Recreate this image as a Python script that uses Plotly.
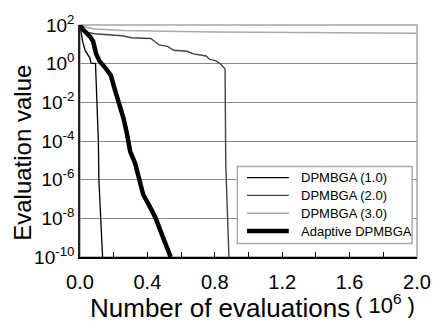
import plotly.graph_objects as go

# ---- data (x in 10^6 evaluations, y = evaluation value) ----
x_d10 = [0, 0.015, 0.03, 0.048, 0.058, 0.066, 0.092, 0.109, 0.112, 0.134]
y_d10 = [100, 15, 5, 2.9, 2.0, 1.05, 1.0, 1e-4, 1e-6, 1e-10]

x_d20 = [0, 0.029, 0.086, 0.25, 0.307, 0.42, 0.47, 0.519, 0.557, 0.634, 0.673,
         0.749, 0.768, 0.807, 0.836, 0.861, 0.865, 0.884]
y_d20 = [100, 44, 35, 28, 22, 20, 9.3, 7.8, 4.9, 4.4, 3.2,
         2.5, 1.7, 1.4, 0.93, 0.52, 6.3e-6, 1e-10]

x_d30 = [0, 0.01, 0.086, 0.26, 0.6, 0.81, 2.0]
y_d30 = [100, 85, 63, 52, 46, 43, 37]

x_ad = [0, 0.02, 0.058, 0.077, 0.096, 0.115, 0.154, 0.183, 0.202, 0.231, 0.259,
        0.278, 0.298, 0.327, 0.356, 0.375, 0.422, 0.451, 0.480, 0.509, 0.538]
y_ad = [100, 56, 26, 15, 3.2, 1.4, 0.56, 0.25, 0.063, 0.01, 0.0014,
        2.5e-4, 2.8e-5, 7.1e-6, 9.3e-7, 1.7e-7, 3.0e-8, 9.3e-9, 2.0e-9, 4.3e-10, 1e-10]

names = ["DPMBGA (1.0)", "DPMBGA (2.0)", "DPMBGA (3.0)", "Adaptive DPMBGA"]
colors = ["#000000", "#444444", "#aaaaaa", "#000000"]
widths = [1.3, 1.4, 1.5, 4.5]

y_tickvals = [1e-10, 1e-8, 1e-6, 1e-4, 1e-2, 1e0, 1e2]
y_ticktext = ["10<sup>-10</sup>", "10<sup>-8</sup>", "10<sup>-6</sup>", "10<sup>-4</sup>",
              "10<sup>-2</sup>", "10<sup>0</sup>", "10<sup>2</sup>"]
x_tickvals = [0.0, 0.4, 0.8, 1.2, 1.6, 2.0]

FONT = "Liberation Sans, Arial, sans-serif"

# plot-area geometry in pixels (for placing the legend box and titles)
L, R, T, B = 80, 16, 16, 75
W, H = 443, 332
PW, PH = W - L - R, H - T - B


def px(xp):
    return (xp - L) / PW


def py(yp):
    return (H - B - yp) / PH


fig = go.Figure()
series = [(x_d10, y_d10), (x_d20, y_d20), (x_d30, y_d30), (x_ad, y_ad)]
for (xs, ys), nm, c, w in zip(series, names, colors, widths):
    fig.add_trace(go.Scatter(x=xs, y=ys, mode="lines", name=nm,
                             line=dict(color=c, width=w), showlegend=False))

# legend drawn as a box with line samples and labels
shapes = [dict(type="rect", xref="paper", yref="paper", x0=0, x1=1, y0=0, y1=1,
               line=dict(color="#bbbbbb", width=2), layer="below"),
          dict(type="rect", xref="paper", yref="paper",
               x0=px(242), x1=px(422), y0=py(243), y1=py(163),
               fillcolor="white", line=dict(color="#aaaaaa", width=1.5), layer="above")]
annotations = []
entry_y = [174.5, 193, 211.5, 230]
for nm, c, w, ey in zip(names, colors, widths, entry_y):
    shapes.append(dict(type="line", xref="paper", yref="paper",
                       x0=px(252), x1=px(295), y0=py(ey), y1=py(ey),
                       line=dict(color=c, width=w), layer="above"))
    annotations.append(dict(text=nm, xref="paper", yref="paper",
                            x=px(305), y=py(ey), xanchor="left", yanchor="middle",
                            showarrow=False, font=dict(size=13, family=FONT)))

annotations += [
    dict(text="Evaluation value", xref="paper", yref="paper",
         x=px(20), y=py(149), textangle=-90,
         xanchor="center", yanchor="middle", showarrow=False,
         font=dict(size=24, family=FONT)),
    dict(text="Number of evaluations", xref="paper", yref="paper",
         x=px(224), y=py(310),
         xanchor="center", yanchor="middle", showarrow=False,
         font=dict(size=26, family=FONT)),
    dict(text="( 10<sup>6</sup> )", xref="paper", yref="paper",
         x=px(394), y=py(306),
         xanchor="center", yanchor="middle", showarrow=False,
         font=dict(size=22, family=FONT)),
]

fig.update_layout(
    width=W, height=H,
    margin=dict(l=L, r=R, t=T, b=B),
    paper_bgcolor="white", plot_bgcolor="white",
    font=dict(family=FONT, color="black"),
    showlegend=False,
    xaxis=dict(range=[0, 2], tickvals=x_tickvals, tickformat=".1f",
               ticks="inside", ticklen=5, tickcolor="black",
               minor=dict(dtick=0.2, ticks="inside", ticklen=5, tickcolor="black", showgrid=False),
               showgrid=False, zeroline=False,
               showline=True, linecolor="black", linewidth=1.5,
               ticklabelstandoff=6,
               tickfont=dict(size=20, family=FONT)),
    yaxis=dict(type="log", range=[-10, 2], tickvals=y_tickvals, ticktext=y_ticktext,
               ticks="", showgrid=True, gridcolor="#8a8a8a", gridwidth=1,
               zeroline=False, showline=True, linecolor="#222222", linewidth=1.5,
               tickfont=dict(size=19, family=FONT)),
    shapes=shapes,
    annotations=annotations,
)

fig.write_html("out.html")
